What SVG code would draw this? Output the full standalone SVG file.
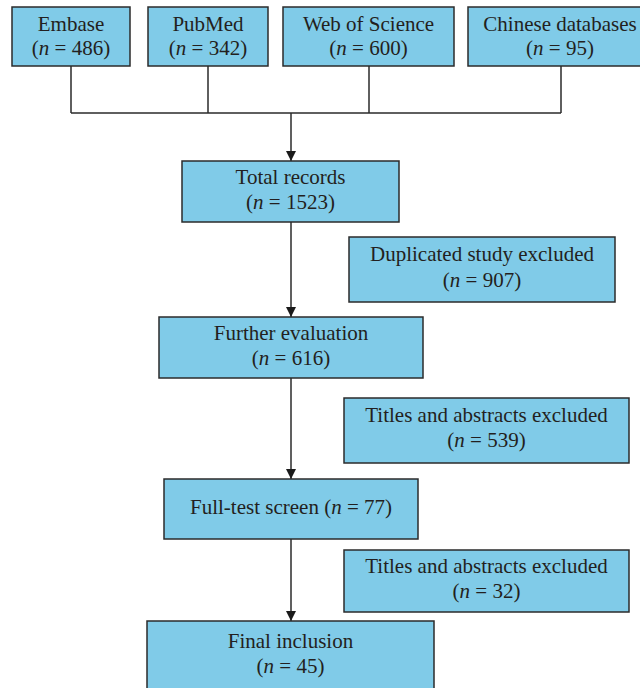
<svg xmlns="http://www.w3.org/2000/svg" width="640" height="688" viewBox="0 0 640 688">
<style>
.box{fill:#80cbe8;stroke:#2b2b2b;stroke-width:1.5}
text{font-family:"Liberation Serif","Times New Roman",serif;font-size:21px;fill:#231f20;text-anchor:middle}
.i{font-style:italic}
.ln{fill:none;stroke:#2b2b2b;stroke-width:1.5}
</style>
<defs>
<marker id="ah" viewBox="0 0 10 10" refX="10" refY="5" markerWidth="10" markerHeight="10" markerUnits="userSpaceOnUse" orient="auto">
<path d="M0,0 L10,5 L0,10 z" fill="#1a1a1a"/>
</marker>
</defs>
<rect width="640" height="688" fill="#fff"/>
<g id="connectors">
<path class="ln" d="M71,66 V113 M208,66 V113 M369,66 V113 M561,66 V113 M71,113 H561"/>
<path class="ln" d="M291,113 V161" marker-end="url(#ah)"/>
<path class="ln" d="M291,222 V317" marker-end="url(#ah)"/>
<path class="ln" d="M291,378 V479" marker-end="url(#ah)"/>
<path class="ln" d="M291,539 V621" marker-end="url(#ah)"/>
</g>
<g id="embase"><rect class="box" x="12" y="7" width="118" height="59"/><text x="71" y="31">Embase</text><text x="71" y="55">(<tspan class="i">n</tspan> = 486)</text></g>
<g id="pubmed"><rect class="box" x="148" y="7" width="120" height="59"/><text x="208" y="31">PubMed</text><text x="208" y="55">(<tspan class="i">n</tspan> = 342)</text></g>
<g id="wos"><rect class="box" x="283" y="7" width="171" height="59"/><text x="368.5" y="31">Web of Science</text><text x="368.5" y="55">(<tspan class="i">n</tspan> = 600)</text></g>
<g id="chinese"><rect class="box" x="468" y="7" width="184" height="59"/><text x="560" y="31">Chinese databases</text><text x="560" y="55">(<tspan class="i">n</tspan> = 95)</text></g>
<g id="total"><rect class="box" x="182" y="161" width="217" height="61"/><text x="290.5" y="184">Total records</text><text x="290.5" y="209">(<tspan class="i">n</tspan> = 1523)</text></g>
<g id="duplicated"><rect class="box" x="349" y="237" width="266" height="65"/><text x="482" y="261">Duplicated study excluded</text><text x="482" y="287">(<tspan class="i">n</tspan> = 907)</text></g>
<g id="further"><rect class="box" x="159" y="317" width="264" height="61"/><text x="291" y="340">Further evaluation</text><text x="291" y="365">(<tspan class="i">n</tspan> = 616)</text></g>
<g id="titles1"><rect class="box" x="344" y="398" width="285" height="65"/><text x="486.5" y="422">Titles and abstracts excluded</text><text x="486.5" y="447">(<tspan class="i">n</tspan> = 539)</text></g>
<g id="fulltest"><rect class="box" x="164" y="479" width="254" height="60"/><text x="291" y="514">Full-test screen (<tspan class="i">n</tspan> = 77)</text></g>
<g id="titles2"><rect class="box" x="344" y="550" width="285" height="62"/><text x="486.5" y="573">Titles and abstracts excluded</text><text x="486.5" y="598">(<tspan class="i">n</tspan> = 32)</text></g>
<g id="final"><rect class="box" x="147" y="621" width="287" height="80"/><text x="290.5" y="648">Final inclusion</text><text x="290.5" y="673">(<tspan class="i">n</tspan> = 45)</text></g>
</svg>
